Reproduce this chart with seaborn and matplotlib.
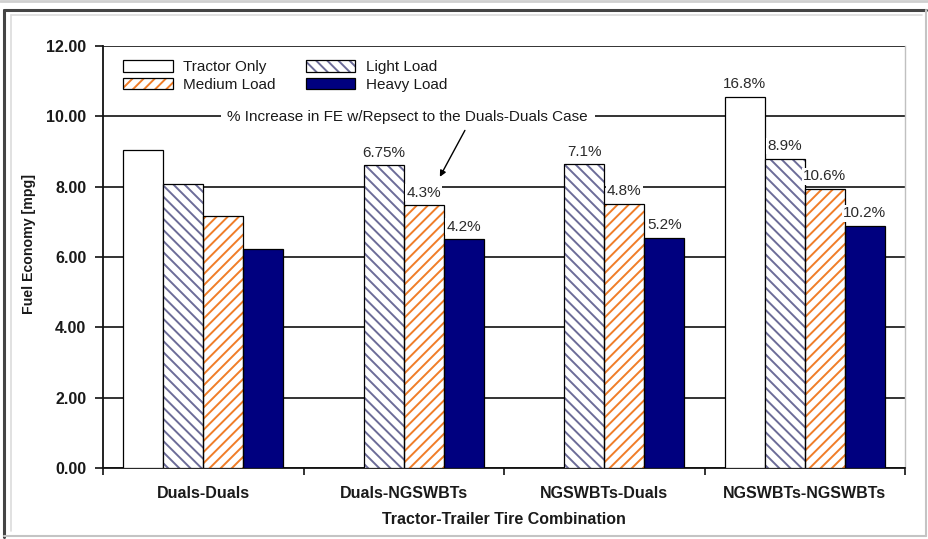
import numpy as np
import pandas as pd
import matplotlib
matplotlib.use("Agg")
import matplotlib.pyplot as plt
from matplotlib.patches import Rectangle, Patch
from matplotlib.lines import Line2D
import seaborn as sns

# ---- data -------------------------------------------------------------
combinations = ["Duals-Duals", "Duals-NGSWBTs", "NGSWBTs-Duals", "NGSWBTs-NGSWBTs"]
loads = ["Tractor Only", "Light Load", "Medium Load", "Heavy Load"]

tractor_only = [9.05, np.nan, np.nan, 10.56]
light_load = [8.07, 8.61, 8.64, 8.80]
medium_load = [7.17, 7.47, 7.51, 7.94]
heavy_load = [6.23, 6.51, 6.55, 6.88]

tractor_pct = ["", "", "", "16.8%"]
light_pct = ["", "6.75%", "7.1%", "8.9%"]
medium_pct = ["", "4.3%", "4.8%", "10.6%"]
heavy_pct = ["", "4.2%", "5.2%", "10.2%"]

y_ticks = [0, 2, 4, 6, 8, 10, 12]

# ---- long table ---------------------------------------------------------
series = {
    "Tractor Only": (tractor_only, tractor_pct),
    "Light Load": (light_load, light_pct),
    "Medium Load": (medium_load, medium_pct),
    "Heavy Load": (heavy_load, heavy_pct),
}
rows = []
for load, (vals, pcts) in series.items():
    for combo, v, p in zip(combinations, vals, pcts):
        rows.append({"combo": combo, "load": load, "mpg": v, "pct": p})
df = pd.DataFrame(rows)

# ---- styling ------------------------------------------------------------
sns.set_theme(style="white")
plt.rcParams["font.family"] = ["Liberation Sans", "DejaVu Sans"]
plt.rcParams["hatch.linewidth"] = 1.4

W, H = 929, 539
fig = plt.figure(figsize=(W / 100, H / 100), dpi=100, facecolor="white")
ax = fig.add_axes([103 / W, 1 - 468 / H, (905 - 103) / W, (468 - 46) / H])

light_col = "#6c6c98"
orange_col = "#f07d28"
navy_col = "#00007f"
light_hatch = "\\\\\\"
medium_hatch = "///"

sns.barplot(data=df, x="combo", y="mpg", hue="load", order=combinations,
            hue_order=loads, width=0.8, errorbar=None, ax=ax,
            legend=False, saturation=1, palette=["white"] * 4)

styles = {
    "Tractor Only": dict(face="white", hatch=None, hcol=None),
    "Light Load": dict(face="white", hatch=light_hatch, hcol=light_col),
    "Medium Load": dict(face="white", hatch=medium_hatch, hcol=orange_col),
    "Heavy Load": dict(face=navy_col, hatch=None, hcol=None),
}

for load, cont in zip(loads, ax.containers):
    st = styles[load]
    for bar in cont:
        bar.set_facecolor(st["face"])
        bar.set_zorder(3)
        if st["hatch"]:
            bar.set_hatch(st["hatch"])
            bar.set_edgecolor(st["hcol"])
            bar.set_linewidth(0)
            ax.add_patch(Rectangle(bar.get_xy(), bar.get_width(), bar.get_height(),
                                   fill=False, ec="black", lw=0.9, zorder=4))
        else:
            bar.set_edgecolor("black")
            bar.set_linewidth(0.9)
    sub = df[(df["load"] == load) & df["mpg"].notna()]
    texts = ax.bar_label(cont, labels=sub["pct"].tolist(), padding=4,
                         fontsize=11, color="#2a2a2a", zorder=6)
    for t in texts:
        if t.get_text():
            t.set_bbox(dict(facecolor="white", edgecolor="none", pad=1.0))

# ---- axes ---------------------------------------------------------------
ax.set_ylim(0, 12)
ax.set_xlim(-0.5, 3.5)
ax.set_yticks(y_ticks)
ax.set_yticklabels([f"{v:.2f}" for v in y_ticks], fontsize=11.5, fontweight="bold",
                   color="#1a1a1a")
ax.yaxis.grid(True, color="#111111", lw=1.2, zorder=0)
ax.set_axisbelow(True)
ax.tick_params(axis="y", direction="out", length=6, width=1.2, color="#111111", pad=6,
               left=True)
ax.set_xticks(range(len(combinations)))
ax.set_xticklabels(combinations, fontsize=11.5, fontweight="bold", color="#1a1a1a")
ax.tick_params(axis="x", length=0, pad=13)
ax.set_xticks(np.arange(-0.5, 4.0, 1.0), minor=True)
ax.tick_params(axis="x", which="minor", direction="out", length=5, width=1.2,
               color="#111111", bottom=True)

for side in ["left", "bottom"]:
    ax.spines[side].set_color("#111111")
    ax.spines[side].set_linewidth(1.3)
ax.spines["top"].set_visible(False)
ax.spines["right"].set_color("#c0c0c0")
ax.spines["right"].set_linewidth(1.0)

ax.set_xlabel("Tractor-Trailer Tire Combination", fontsize=11.5, fontweight="bold",
              color="#1a1a1a")
ax.xaxis.set_label_coords(0.5, -0.105)
ax.set_ylabel("Fuel Economy [mpg]", fontsize=10.2, fontweight="bold",
              color="#1a1a1a")
ax.yaxis.set_label_coords(-0.084, 0.53)

# ---- legend -------------------------------------------------------------
def outline():
    return Patch(facecolor="none", edgecolor="black", lw=0.9)

handles = {
    "Tractor Only": Patch(facecolor="white", edgecolor="black", lw=0.9),
    "Light Load": (Patch(facecolor="white", edgecolor=light_col, hatch=light_hatch, lw=0),
                   outline()),
    "Medium Load": (Patch(facecolor="white", edgecolor=orange_col, hatch=medium_hatch, lw=0),
                    outline()),
    "Heavy Load": Patch(facecolor=navy_col, edgecolor="black", lw=0.9),
}
leg_order = ["Tractor Only", "Medium Load", "Light Load", "Heavy Load"]
leg = fig.legend([handles[k] for k in leg_order], leg_order, ncol=2,
                 loc="upper left", bbox_to_anchor=(123 / W, 1 - 60 / H),
                 frameon=False, fontsize=11, handlelength=3.25, handleheight=0.8,
                 handletextpad=0.7, columnspacing=1.95, labelspacing=0.22,
                 borderpad=0, borderaxespad=0)
for t in leg.get_texts():
    t.set_color("#1a1a1a")

# ---- annotation ---------------------------------------------------------
ax.text(1.02, 9.98, "% Increase in FE w/Repsect to the Duals-Duals Case",
        ha="center", va="center", fontsize=11, color="#1a1a1a", zorder=7,
        bbox=dict(facecolor="white", edgecolor="none", boxstyle="square,pad=0.45"))
ax.annotate("", xy=(1.18, 8.28), xytext=(1.305, 9.6),
            arrowprops=dict(arrowstyle="-|>", color="black", lw=1.0,
                            mutation_scale=9, shrinkA=0, shrinkB=0), zorder=7)

# ---- frame around the chart ---------------------------------------------
def fline(x0, y0, x1, y1, **kw):
    fig.add_artist(Line2D([x0 / W, x1 / W], [1 - y0 / H, 1 - y1 / H], **kw))

fline(0, 1, W, 1, color="#cfcfcf", lw=2)
fline(4, 10, 926, 10, color="#444444", lw=2.2)
fline(4, 10, 4, 537, color="#444444", lw=2.2)
fline(926, 10, 926, 536, color="#c4c4c4", lw=1.5)
fline(4, 536, 926, 536, color="#c4c4c4", lw=1.5)
fline(11, 15, 922, 15, color="#dcdcdc", lw=1.2)
fline(11, 15, 11, 531, color="#dcdcdc", lw=1.2)

fig.savefig("out.png", dpi=100, facecolor="white")
